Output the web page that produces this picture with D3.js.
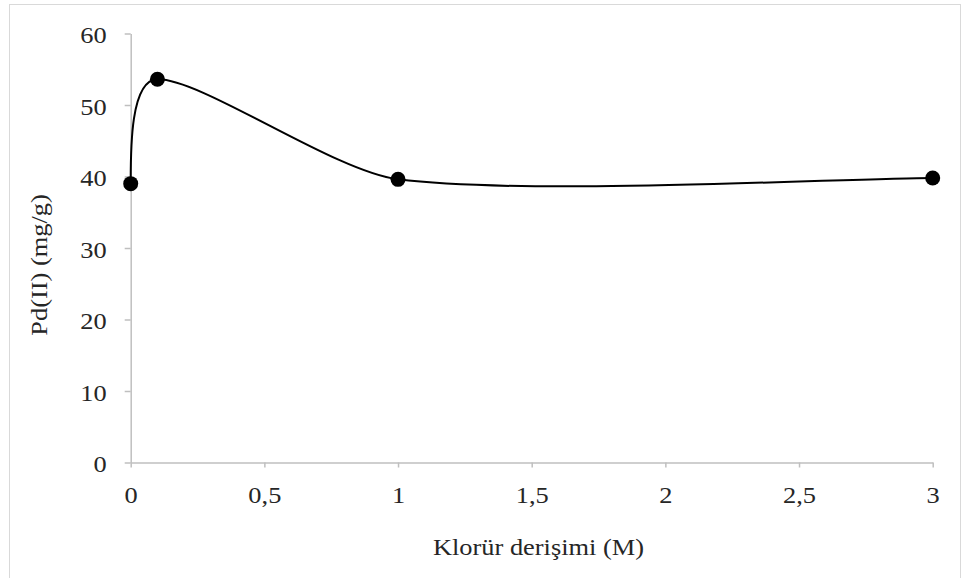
<!DOCTYPE html>
<html><head><meta charset="utf-8">
<script src="https://cdn.jsdelivr.net/npm/d3@7"></script>
<style>body{margin:0;background:#fff}svg{display:block}</style>
</head><body>
<svg id="c" width="961" height="578"></svg>
<script>
const xValues = [0, 0.1, 1, 3];
const yValues = [39.0, 53.6, 39.6, 39.8];
const xTicks = [0, 0.5, 1, 1.5, 2, 2.5, 3];
const yTicks = [0, 10, 20, 30, 40, 50, 60];
const xTitle = "Klorür derişimi (M)";
const yTitle = "Pd(II) (mg/g)";

const svg = d3.select("#c");
const font = "'Liberation Serif','Times New Roman',serif";
const FS = 24, SX = 1.1;
svg.append("rect").attr("x",9.5).attr("y",4.5).attr("width",951).attr("height",580)
  .attr("fill","#fff").attr("stroke","#d9d9d9").attr("stroke-width",1);

const x = d3.scaleLinear().domain([0,3]).range([130.7,932.7]);
const y = d3.scaleLinear().domain([0,60]).range([462.5,33.5]);
const fmt = d => String(d).replace(".", ",");

const gx = svg.append("g").attr("transform",`translate(0,${y(0)})`)
  .call(d3.axisBottom(x).tickValues(xTicks).tickFormat(fmt).tickSize(6).tickSizeOuter(0).tickPadding(17.5));
const gy = svg.append("g").attr("transform",`translate(${x(0)},0)`)
  .call(d3.axisLeft(y).tickValues(yTicks).tickSize(6).tickSizeOuter(0).tickPadding(18));
[gx,gy].forEach(g=>{
  g.attr("font-family",font).attr("font-size",FS);
  g.select(".domain").attr("stroke","#bfbfbf").attr("stroke-width",1.5);
  g.selectAll(".tick line").attr("stroke","#bfbfbf").attr("stroke-width",1.5);
  g.selectAll("text").attr("font-family",font).attr("font-size",FS).attr("fill","#262626")
    .attr("transform",`scale(${SX},1)`);
});
gx.selectAll(".tick line").attr("y2",5);
gy.selectAll(".tick text").attr("x",-24/SX).attr("dy","0.38em");

// Excel-like smoothed line built from the data points
const pts = xValues.map((v,i)=>[x(v),y(yValues[i])]);
function smoothPath(p){
  const n=p.length, d=(a,b)=>Math.hypot(a[0]-b[0],a[1]-b[1]);
  const ctrl=[]; // [c1,c2] per segment
  for(let i=0;i<n-1;i++){
    const chord=d(p[i],p[i+1]);
    const off=(a,b)=>{let v=[(b[0]-a[0])/6,(b[1]-a[1])/6];const L=Math.hypot(v[0],v[1]);
      if(L>chord/4){v=[v[0]*chord/4/L,v[1]*chord/4/L];}return v;};
    const a=p[Math.max(i-1,0)], b=p[i+1], c=p[i], e=p[Math.min(i+2,n-1)];
    const v1=off(a,b), v2=off(c,e);
    ctrl.push([[c[0]+v1[0],c[1]+v1[1]],[b[0]-v2[0],b[1]-v2[1]]]);
  }
  // first segment start control: lean toward next control point
  const c2=ctrl[0][1];
  ctrl[0][0]=[p[0][0]+(c2[0]-p[0][0])/3,p[0][1]+(c2[1]-p[0][1])/3];
  const path=d3.path(); path.moveTo(p[0][0],p[0][1]);
  ctrl.forEach((c,i)=>path.bezierCurveTo(c[0][0],c[0][1],c[1][0],c[1][1],p[i+1][0],p[i+1][1]));
  return path.toString();
}
svg.append("path").attr("d",smoothPath(pts))
  .attr("fill","none").attr("stroke","#000").attr("stroke-width",2);
svg.selectAll("circle.p").data(pts).join("circle").attr("class","p")
  .attr("cx",d=>d[0]).attr("cy",d=>d[1]).attr("r",7.5).attr("fill","#000");

svg.append("text").attr("transform",`translate(538.5,555) scale(${SX},1)`).attr("text-anchor","middle")
  .attr("font-family",font).attr("font-size",FS).attr("fill","#262626").text(xTitle);
svg.append("text").attr("transform",`translate(47,265) rotate(-90) scale(${SX},1)`).attr("text-anchor","middle")
  .attr("font-family",font).attr("font-size",FS).attr("fill","#262626").text(yTitle);
</script>
</body></html>
